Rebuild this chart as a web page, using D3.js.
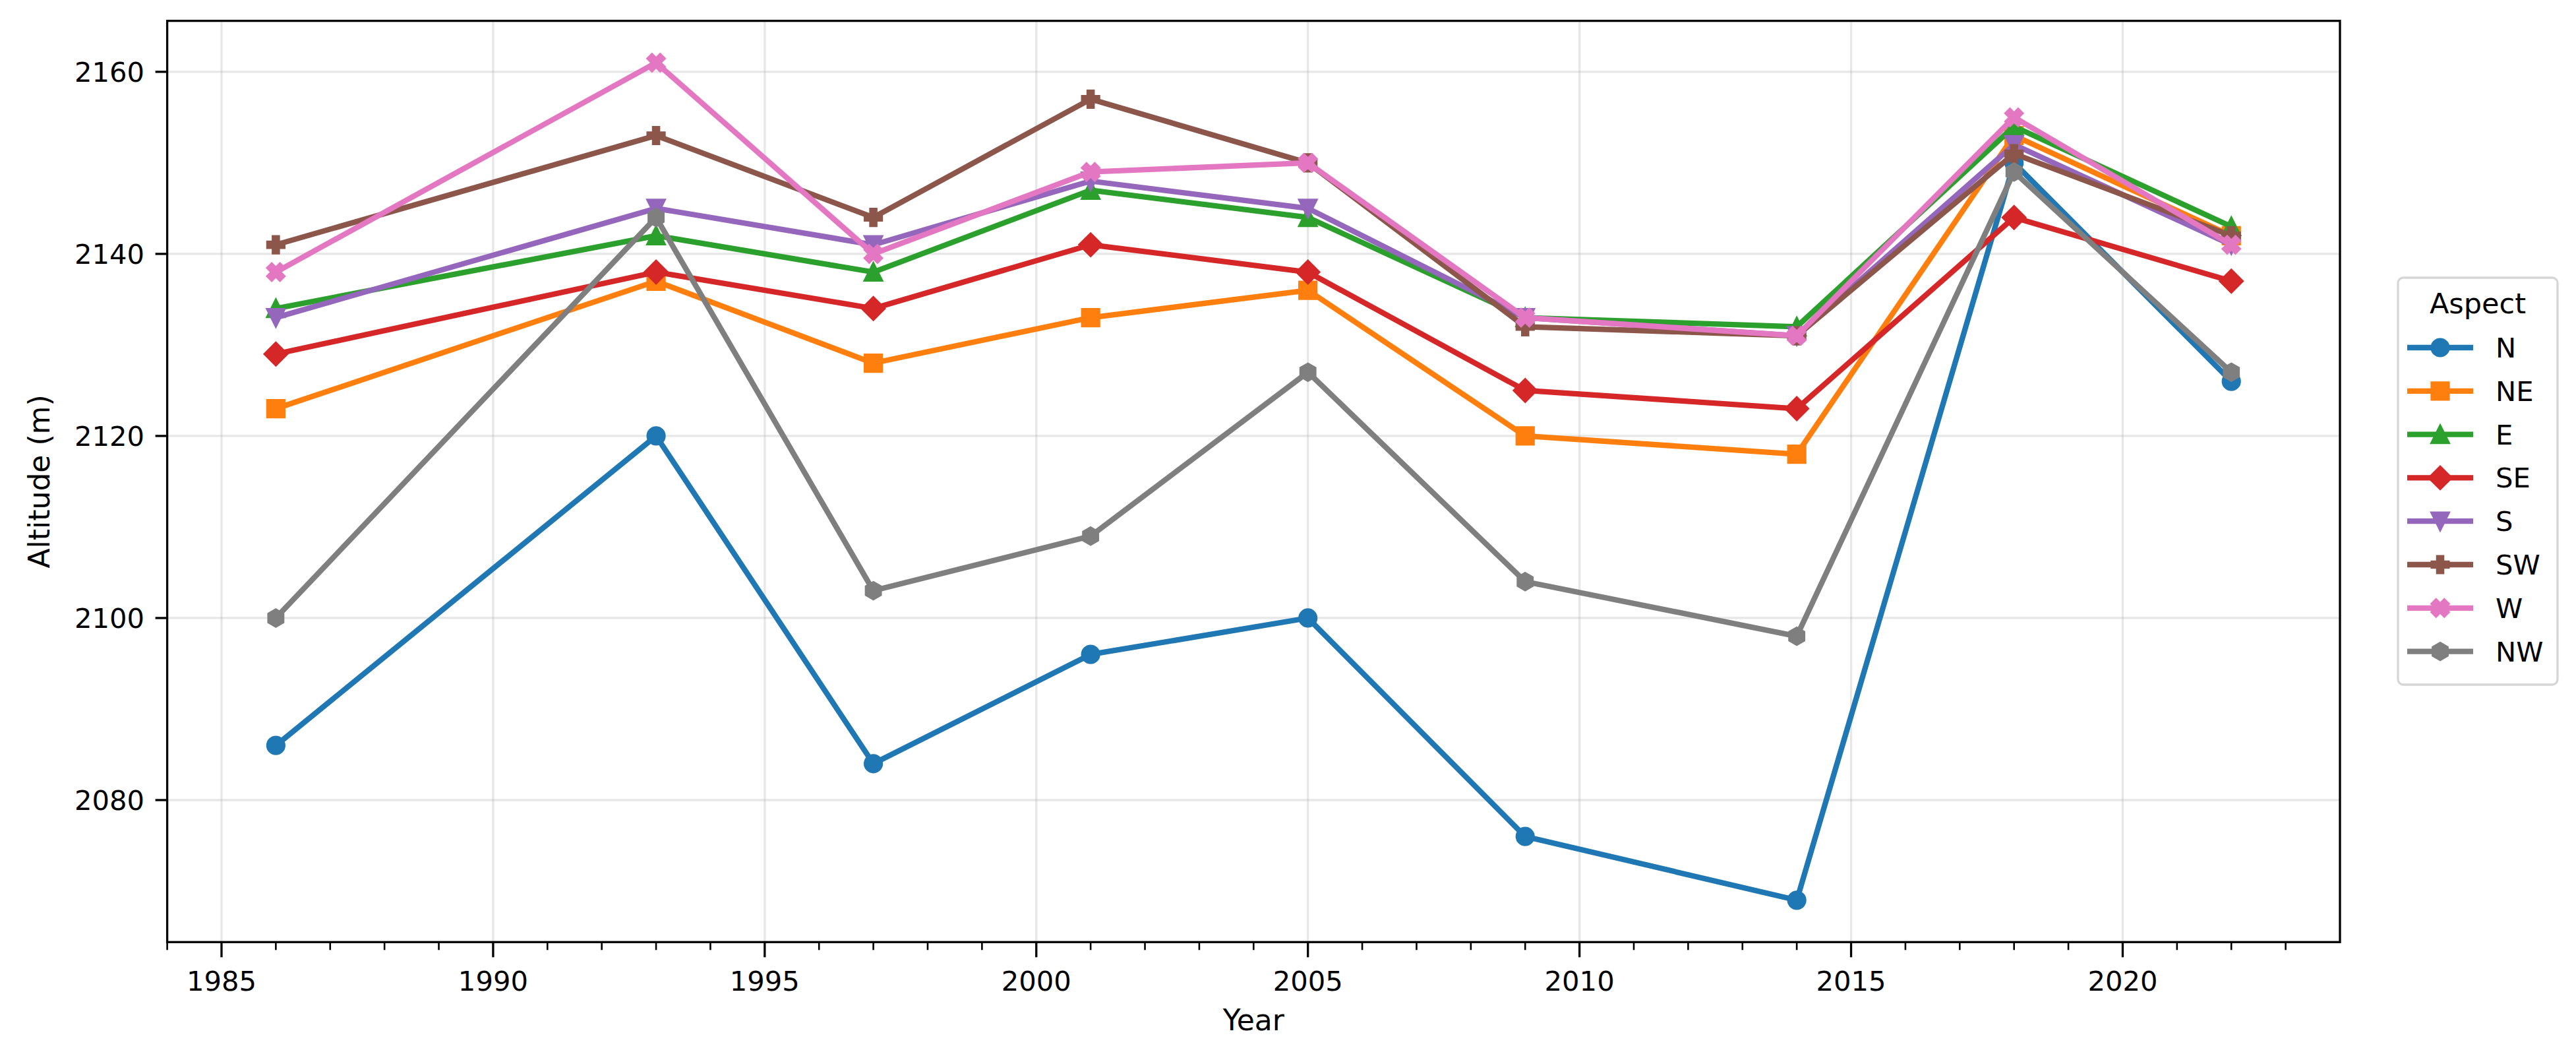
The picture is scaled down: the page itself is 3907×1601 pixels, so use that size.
<!DOCTYPE html>
<html>
<head>
<meta charset="utf-8">
<script src="https://cdn.jsdelivr.net/npm/d3@7"></script>
<style>
  html, body { margin: 0; padding: 0; background: #ffffff; }
  svg { display: block; font-family: "DejaVu Sans", sans-serif; }
</style>
</head>
<body>
<svg id="chart" width="3907" height="1601"></svg>
<script>
// ---------- data ----------
const years = [1986, 1993, 1997, 2001, 2005, 2009, 2014, 2018, 2022];
const aspects = ["N", "NE", "E", "SE", "S", "SW", "W", "NW"];
const N  = [2086, 2120, 2084, 2096, 2100, 2076, 2069, 2150, 2126];
const NE = [2123, 2137, 2128, 2133, 2136, 2120, 2118, 2153, 2142];
const E  = [2134, 2142, 2138, 2147, 2144, 2133, 2132, 2154, 2143];
const SE = [2129, 2138, 2134, 2141, 2138, 2125, 2123, 2144, 2137];
const S  = [2133, 2145, 2141, 2148, 2145, 2133, 2131, 2152, 2141];
const SW = [2141, 2153, 2144, 2157, 2150, 2132, 2131, 2151, 2142];
const W  = [2138, 2161, 2140, 2149, 2150, 2133, 2131, 2155, 2141];
const NW = [2100, 2144, 2103, 2109, 2127, 2104, 2098, 2149, 2127];
const seriesValues = [N, NE, E, SE, S, SW, W, NW];
const colors = ["#1f77b4", "#ff7f0e", "#2ca02c", "#d62728", "#9467bd", "#8c564b", "#e377c2", "#7f7f7f"];
const markers = ["o", "s", "^", "D", "v", "P", "X", "h"];
const xMajorTicks = [1985, 1990, 1995, 2000, 2005, 2010, 2015, 2020];
const xMinorTicks = d3.range(1984, 2024).filter(v => v % 5 !== 0);
const yTicks = [2080, 2100, 2120, 2140, 2160];
const xLabel = "Year";
const yLabel = "Altitude (m)";
const legendTitle = "Aspect";

// ---------- layout ----------
const L = 253.6, R = 3549, T = 31.6, B = 1428.3;
const svg = d3.select("#chart");
svg.append("rect").attr("width", 3907).attr("height", 1601).attr("fill", "#fff");

const x = d3.scaleLinear().domain([1984, 2024]).range([L, R]);
const y = d3.scaleLinear().domain([2064.4, 2165.6]).range([B, T]);

// grid
const grid = svg.append("g");
grid.selectAll("line.gx").data(xMajorTicks).join("line")
  .attr("x1", d => x(d)).attr("x2", d => x(d)).attr("y1", T).attr("y2", B)
  .attr("stroke", "#b0b0b0").attr("stroke-opacity", 0.3).attr("stroke-width", 3.3);
grid.selectAll("line.gy").data(yTicks).join("line")
  .attr("y1", d => y(d)).attr("y2", d => y(d)).attr("x1", L).attr("x2", R)
  .attr("stroke", "#b0b0b0").attr("stroke-opacity", 0.3).attr("stroke-width", 3.3);

// marker paths
function markerPath(type, s) {
  const h = s / 2;
  const poly = pts => "M" + pts.map(p => p[0].toFixed(2) + "," + p[1].toFixed(2)).join("L") + "Z";
  switch (type) {
    case "o": return `M${h},0A${h},${h} 0 1,1 ${-h},0A${h},${h} 0 1,1 ${h},0Z`;
    case "s": return poly([[-h, -h], [h, -h], [h, h], [-h, h]]);
    case "^": return poly([[0, -h], [h, h], [-h, h]]);
    case "v": return poly([[0, h], [h, -h], [-h, -h]]);
    case "D": { const d = s * 0.66; return poly([[0, -d], [d, 0], [0, d], [-d, 0]]); }
    case "P": {
      const k = s / 6;
      return poly([[-1, -3], [1, -3], [1, -1], [3, -1], [3, 1], [1, 1], [1, 3], [-1, 3], [-1, 1], [-3, 1], [-3, -1], [-1, -1]].map(p => [p[0] * k, p[1] * k]));
    }
    case "X": {
      const k = s / 4;
      return poly([[-1, -2], [0, -1], [1, -2], [2, -1], [1, 0], [2, 1], [1, 2], [0, 1], [-1, 2], [-2, 1], [-1, 0], [-2, -1]].map(p => [p[0] * k, p[1] * k]));
    }
    case "h": {
      const pts = d3.range(6).map(i => { const a = -Math.PI / 2 + i * Math.PI / 3; return [h * Math.cos(a), h * Math.sin(a)]; });
      return poly(pts);
    }
  }
}

// lines + markers
const MS = 25, LW = 8.3, MEW = 4.2;
const lineGen = d3.line().x(d => x(d.year)).y(d => y(d.value));
const plot = svg.append("g");
seriesValues.forEach((vals, i) => {
  const pts = years.map((yr, j) => ({ year: yr, value: vals[j] }));
  const g = plot.append("g");
  g.append("path").datum(pts).attr("d", lineGen)
    .attr("fill", "none").attr("stroke", colors[i]).attr("stroke-width", LW)
    .attr("stroke-linejoin", "round").attr("stroke-linecap", "butt");
  g.selectAll("path.m").data(pts).join("path").attr("class", "m")
    .attr("d", markerPath(markers[i], MS))
    .attr("transform", d => `translate(${x(d.year)},${y(d.value)})`)
    .attr("fill", colors[i]).attr("stroke", colors[i]).attr("stroke-width", MEW)
    .attr("stroke-linejoin", "miter");
});

// spines
svg.append("rect").attr("x", L).attr("y", T).attr("width", R - L).attr("height", B - T)
  .attr("fill", "none").attr("stroke", "#000").attr("stroke-width", 3.3);

// x ticks
const axG = svg.append("g");
axG.selectAll("line.xmaj").data(xMajorTicks).join("line")
  .attr("x1", d => x(d)).attr("x2", d => x(d)).attr("y1", B).attr("y2", B + 23)
  .attr("stroke", "#000").attr("stroke-width", 3.3);
axG.selectAll("line.xmin").data(xMinorTicks).join("line")
  .attr("x1", d => x(d)).attr("x2", d => x(d)).attr("y1", B).attr("y2", B + 12)
  .attr("stroke", "#000").attr("stroke-width", 2.6);
axG.selectAll("text.xl").data(xMajorTicks).join("text")
  .attr("x", d => x(d)).attr("y", 1502).attr("text-anchor", "middle")
  .attr("font-size", 41.7).attr("fill", "#000").text(d => d);

// y ticks
axG.selectAll("line.ymaj").data(yTicks).join("line")
  .attr("x1", L - 18).attr("x2", L).attr("y1", d => y(d)).attr("y2", d => y(d))
  .attr("stroke", "#000").attr("stroke-width", 3.3);
axG.selectAll("text.yl").data(yTicks).join("text")
  .attr("x", 219).attr("y", d => y(d) + 15.2).attr("text-anchor", "end")
  .attr("font-size", 41.7).attr("fill", "#000").text(d => d);

// axis labels
svg.append("text").attr("x", (L + R) / 2).attr("y", 1562).attr("text-anchor", "middle")
  .attr("font-size", 44).attr("fill", "#000").text(xLabel);
svg.append("text").attr("transform", `translate(75,${(T + B) / 2}) rotate(-90)`)
  .attr("text-anchor", "middle").attr("font-size", 44).attr("fill", "#000").text(yLabel);

// legend
const lg = svg.append("g");
lg.append("rect").attr("x", 3637).attr("y", 421).attr("width", 242).attr("height", 617)
  .attr("rx", 8).attr("ry", 8).attr("fill", "#fff").attr("fill-opacity", 0.8)
  .attr("stroke", "#d6d6d6").attr("stroke-width", 3.3);
lg.append("text").attr("x", 3758).attr("y", 475).attr("text-anchor", "middle")
  .attr("font-size", 43).attr("fill", "#000").text(legendTitle);
aspects.forEach((name, i) => {
  const cy = 527 + 65.8 * i;
  lg.append("line").attr("x1", 3651).attr("x2", 3751).attr("y1", cy).attr("y2", cy)
    .attr("stroke", colors[i]).attr("stroke-width", LW);
  lg.append("path").attr("d", markerPath(markers[i], MS))
    .attr("transform", `translate(3701,${cy})`)
    .attr("fill", colors[i]).attr("stroke", colors[i]).attr("stroke-width", MEW);
  lg.append("text").attr("x", 3785).attr("y", cy + 15)
    .attr("font-size", 41.7).attr("fill", "#000").text(name);
});
</script>
</body>
</html>
